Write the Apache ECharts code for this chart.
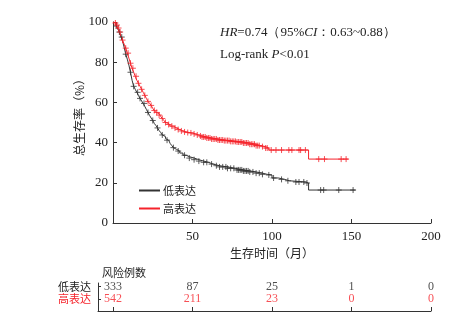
<!DOCTYPE html>
<html><head><meta charset="utf-8">
<script src="https://cdn.jsdelivr.net/npm/echarts@6/dist/echarts.min.js"></script>
<style>html,body{margin:0;padding:0;background:#fff}#c{width:457px;height:329px}</style>
</head><body><div id="c"></div>
<script>
// Kaplan-Meier step points [month, survival %]
const lowSteps = [[0,100],[1,99.5],[2,98],[3,96.5],[4,95],[5,92.5],[6,90.5],[7,87.5],[8,84],[9,81.5],[10,78.5],[11,75],[12,71],[13,68],[14,66.5],[15,65],[16,63.5],[17,62],[18,60.7],[19,59.5],[20,58],[21,56.5],[22,55],[23,53.5],[24,52.2],[25,51],[26,49.5],[27,48.5],[28,47.3],[29,46],[30,45],[31,43.8],[32,43],[33,42],[34,41.2],[35,40.5],[36,39.5],[37,38.5],[38,37.5],[39,36.6],[40,35.8],[42,34.8],[44,33.7],[46,33],[48,32.3],[51,31.5],[54,30.8],[57,30.2],[60,29.3],[63,28.5],[67,27.9],[72,27.2],[77,26.4],[82,25.9],[86,25.4],[90,24.8],[94,24.2],[97,23.9],[100,22.4],[104,21.7],[108,21],[111,20.4],[121,19.9],[123,16.4],[152.5,16.4]];
const highSteps = [[0,100],[1,99.5],[2,98.5],[3,97],[4,95],[5,93],[6,91],[7,89],[8,87],[9,84.5],[10,82],[11,79.5],[12,77],[13,75],[14,73],[15,71],[16,69.5],[17,68],[18,66.5],[19,65],[20,63.5],[21,62],[22,60.5],[23,59.5],[24,58.5],[25,57],[26,56],[27,55],[28,54.5],[29,53.7],[30,53],[31,52],[32,51],[33,50],[34,49.5],[35,49],[36,48.2],[38,47.3],[40,46.5],[42,45.8],[44,45.3],[46,45],[48,44.8],[50,44.3],[52,43.8],[54,43.3],[56,42.8],[59,42.3],[62,41.8],[66,41.3],[70,41],[74,40.6],[78,40.3],[82,39.8],[86,39.2],[90,38.5],[93,38],[96,37.3],[98,36.3],[123,31.8],[148,31.8]];
// censoring times (months)
const lowCensor = [2,4,5.5,8,11,13,15.5,17,19.5,22,25,28,31,34,38,41,45,48,51,54,57,59,62,65,67,69,71,72,74,76,78,79,80,81,82,83,84,85,86,88,90,92,94,98,101,106,110,115,117,120,122,130.6,132.5,142,151];
const highCensor = [1.5,2.5,3.5,4.5,6,8,9.5,11,12.5,14.5,16,18,20,22,24,26,27.5,29,31,33,35,37,39,41,43,45,47,49,51,53,55,56,57,58,59,60,61,62,63,64,65,66,67,68,69,70,71,72,73,74,75,76,77,78,79,80,81,82,83,84,85,86,87,88,89,90,91,92,94,96,97,99.5,102.5,106,110.6,112.5,117,118,121,129.4,133,143.5,146.6];
// numbers at risk
const riskTimes = [0,50,100,150,200];
const riskLow = [333,87,25,1,0];
const riskHigh = [542,211,23,0,0];
const yTicks = [0,20,40,60,80,100];
const xTickLabels = [50,100,150,200];

const RED = '#f5232b', BLK = '#333333', TXT = '#222222';
const SERIF = '"Liberation Serif","Times New Roman",serif';
const CJK = '"Noto Sans CJK SC",sans-serif';

function survAt(steps, t){ let s = steps[0][1]; for (const p of steps){ if (p[0] <= t) s = p[1]; } return s; }
const plus = 'path://M0,5L10,5M5,0L5,10';

const chart = echarts.init(document.getElementById('c'));
chart.setOption({
  animation: false,
  backgroundColor: '#fff',
  grid: [
    {left: 113, right: 26, top: 22, bottom: 106},
    {left: 98, right: 26, top: 283, height: 28}
  ],
  xAxis: [
    {gridIndex: 0, type: 'value', min: 0, max: 200, interval: 50,
     axisLine: {onZero: false, lineStyle: {color: BLK, width: 1}},
     axisTick: {inside: true, length: 4, lineStyle: {color: BLK}},
     splitLine: {show: false},
     axisLabel: {customValues: xTickLabels, color: TXT, fontFamily: SERIF, fontSize: 13, margin: 7},
     name: '生存时间（月）', nameLocation: 'middle', nameGap: 23,
     nameTextStyle: {color: TXT, fontFamily: CJK, fontSize: 12}},
    {gridIndex: 1, type: 'value', min: -9.375, max: 200,
     axisLine: {onZero: false, lineStyle: {color: BLK, width: 1}},
     axisTick: {inside: true, length: 4, customValues: riskTimes, lineStyle: {color: BLK}},
     splitLine: {show: false}, axisLabel: {show: false}}
  ],
  yAxis: [
    {gridIndex: 0, type: 'value', min: 0, max: 100, interval: 20,
     axisLine: {show: true, onZero: false, lineStyle: {color: BLK, width: 1}},
     axisTick: {show: true, inside: true, length: 4, lineStyle: {color: BLK}},
     splitLine: {show: false},
     axisLabel: {customValues: yTicks, color: TXT, fontFamily: SERIF, fontSize: 13, margin: 5},
     name: '总生存率（%）', nameLocation: 'middle', nameGap: 28, nameRotate: 90, nameMoveOverlap: false,
     nameTextStyle: {color: TXT, fontFamily: CJK, fontSize: 12, padding: [0,0,0,16]}},
    {gridIndex: 1, type: 'value', min: 0, max: 2.3,
     axisLine: {show: true, onZero: false, lineStyle: {color: BLK, width: 1}},
     axisTick: {show: true, inside: true, length: 3, customValues: [1,2], lineStyle: {color: BLK}},
     splitLine: {show: false},
     axisLabel: {customValues: [1,2], margin: 7, fontFamily: CJK, fontSize: 11,
       formatter: v => v === 2 ? '{b|低表达}' : '{r|高表达}',
       rich: {b: {color: TXT, fontFamily: CJK, fontSize: 11}, r: {color: RED, fontFamily: CJK, fontSize: 11}}},
     name: '风险例数', nameLocation: 'end', nameGap: 5,
     nameTextStyle: {color: TXT, fontFamily: CJK, fontSize: 11, align: 'left', padding: [0,0,0,4]}}
  ],
  legend: {
    orient: 'vertical', left: 134, top: 180, itemGap: 7, itemWidth: 21, itemHeight: 2,
    icon: 'rect', data: ['低表达', '高表达'],
    textStyle: {color: TXT, fontFamily: CJK, fontSize: 11, padding: [0,0,0,-2]}
  },
  graphic: [
    {type: 'text', left: 220, top: 26, style: {
      text: '{i|HR}=0.74（95%{i|CI}：0.63~0.88）', fill: TXT, font: '13px ' + SERIF,
      rich: {i: {fontStyle: 'italic', fontFamily: SERIF, fontSize: 13, fill: TXT}}}},
    {type: 'text', left: 220, top: 48, style: {
      text: 'Log-rank {i|P}<0.01', fill: TXT, font: '13px ' + SERIF,
      rich: {i: {fontStyle: 'italic', fontFamily: SERIF, fontSize: 13, fill: TXT}}}}
  ],
  series: [
    {name: '低表达', type: 'line', step: 'end', showSymbol: false, data: lowSteps,
     lineStyle: {color: BLK, width: 1}, itemStyle: {color: BLK}, z: 3},
    {name: '高表达', type: 'line', step: 'end', showSymbol: false, data: highSteps,
     lineStyle: {color: RED, width: 1}, itemStyle: {color: RED}, z: 3},
    {name: 'lowCensor', type: 'scatter', symbol: plus, symbolSize: 6,
     data: lowCensor.map(t => [t, survAt(lowSteps, t)]),
     itemStyle: {color: 'none', borderColor: BLK, borderWidth: 1}, z: 4},
    {name: 'highCensor', type: 'scatter', symbol: plus, symbolSize: 6,
     data: highCensor.map(t => [t, survAt(highSteps, t)]),
     itemStyle: {color: 'none', borderColor: RED, borderWidth: 1}, z: 4},
    {name: 'riskLow', type: 'scatter', xAxisIndex: 1, yAxisIndex: 1, symbolSize: 1,
     itemStyle: {color: 'rgba(0,0,0,0)'},
     data: riskTimes.map((t, i) => [t, 2, riskLow[i]]),
     label: {show: true, position: 'inside', formatter: p => String(p.value[2]),
       color: TXT, fontFamily: SERIF, fontSize: 12}},
    {name: 'riskHigh', type: 'scatter', xAxisIndex: 1, yAxisIndex: 1, symbolSize: 1,
     itemStyle: {color: 'rgba(0,0,0,0)'},
     data: riskTimes.map((t, i) => [t, 1, riskHigh[i]]),
     label: {show: true, position: 'inside', formatter: p => String(p.value[2]),
       color: RED, fontFamily: SERIF, fontSize: 12}}
  ]
});
</script></body></html>
